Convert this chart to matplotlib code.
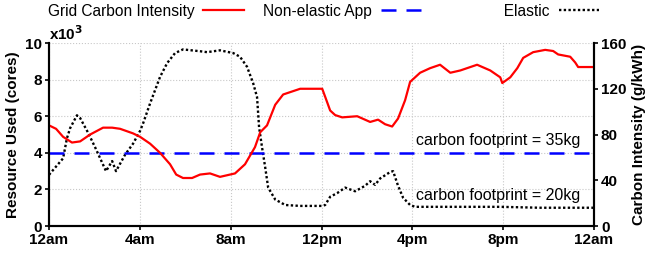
import matplotlib
matplotlib.use('Agg')
import matplotlib.pyplot as plt

plt.rcParams['font.family'] = ['Liberation Sans', 'DejaVu Sans']

# 电网碳强度 (g/kWh)
carbon_hours = [0, 0.31, 0.62, 1.01, 1.37, 1.81, 2.38, 2.78, 3.13, 3.70, 4.01, 4.45,
                4.89, 5.33, 5.6, 5.90, 6.30, 6.65, 7.09, 7.53, 8.19, 8.63, 9.07, 9.30,
                9.60, 9.96, 10.31, 11.06, 12.03, 12.16, 12.38, 12.60, 12.91, 13.57,
                14.14, 14.49, 14.80, 15.11, 15.37, 15.68, 15.90, 16.34, 16.78, 17.22,
                17.67, 18.11, 18.85, 19.43, 19.87, 19.96, 20.31, 20.62, 20.88, 21.32,
                21.85, 22.20, 22.42, 22.95, 23.17, 23.30, 24]
carbon_vals = [88, 85, 78, 73, 74, 80, 86, 86, 85, 81, 78, 72,
               64, 54, 45, 42, 42, 45, 46, 43, 46, 54, 69, 82,
               88, 106, 115, 120, 120, 113, 101, 97, 95, 96,
               91, 93, 89, 87, 94, 110, 126, 134, 138, 141,
               134, 136, 141, 136, 130, 125, 130, 138, 147, 152,
               154, 153, 150, 148, 143, 139, 139]

# 非弹性应用: 常数 4k cores
nonelastic_hours = [0, 24]
nonelastic_vals = [4.0, 4.0]

# 弹性应用 (x10^3 cores)
elastic_hours = [0, 0.62, 0.79, 0.93, 1.23, 1.37, 1.72, 2.03, 2.51, 2.78, 2.95, 3.35,
                 3.70, 4.01, 4.14, 4.45, 4.89, 5.20, 5.55, 5.90, 6.65, 6.96, 7.53,
                 8.11, 8.41, 8.72, 8.99, 9.16, 9.25, 9.38, 9.52, 9.65, 9.96, 10.40,
                 11.06, 12.03, 12.16, 12.38, 12.69, 13.04, 13.48, 13.92, 14.14, 14.36,
                 14.58, 15.02, 15.15, 15.37, 15.59, 15.90, 16.12, 17.67, 19.87, 21.63, 24]
elastic_vals = [2.8, 3.7, 4.8, 5.35, 6.05, 5.9, 5.1, 4.3, 3.0, 3.55, 3.0, 3.9,
                4.5, 5.2, 5.6, 6.7, 8.15, 8.9, 9.45, 9.65, 9.55, 9.5, 9.6,
                9.45, 9.25, 8.7, 7.8, 7.05, 5.4, 4.3, 3.2, 2.1, 1.45, 1.15,
                1.1, 1.1, 1.15, 1.6, 1.8, 2.1, 1.9, 2.2, 2.45, 2.25,
                2.6, 2.95, 3.0, 2.2, 1.55, 1.15, 1.05, 1.05, 1.05, 1.0, 1.0]

xticks = [0, 4, 8, 12, 16, 20, 24]
xticklabels = ['12am', '4am', '8am', '12pm', '4pm', '8pm', '12am']

fig = plt.figure(figsize=(6.45, 2.56), dpi=100)
ax = fig.add_axes([0.076, 0.117, 0.845, 0.715])
ax2 = ax.twinx()

# 绘制曲线
l_elastic, = ax.plot(elastic_hours, elastic_vals, color='black', lw=1.7,
                     linestyle=(0, (1, 1)), label='Elastic')
l_non, = ax.plot(nonelastic_hours, nonelastic_vals, color='blue', lw=1.8,
                 linestyle=(0, (6, 4)), label='Non-elastic App')
l_carbon, = ax2.plot(carbon_hours, carbon_vals, color='red', lw=1.6,
                     label='Grid Carbon Intensity')

ax.set_xlim(0, 24)
ax.set_ylim(0, 10)
ax2.set_ylim(0, 160)
ax.set_xticks(xticks)
ax.set_xticklabels(xticklabels, fontweight='bold', fontsize=11)
ax.set_yticks([0, 2, 4, 6, 8, 10])
ax.set_yticklabels(['0', '2', '4', '6', '8', '10'], fontweight='bold', fontsize=11)
ax2.set_yticks([0, 40, 80, 120, 160])
ax2.set_yticklabels(['0', '40', '80', '120', '160'], fontweight='bold', fontsize=11)

ax.grid(True, color='#c8c8c8', linestyle=':', lw=0.8)
for a in (ax, ax2):
    a.spines['top'].set_visible(False)
    for s in ('left', 'right', 'bottom'):
        a.spines[s].set_linewidth(1.5)
    a.tick_params(direction='out', length=3, width=1.2, pad=2)

ax.set_ylabel('Resource Used (cores)', fontweight='bold', fontsize=11, labelpad=4)
ax2.set_ylabel('Carbon Intensity (g/kWh)', fontweight='bold', fontsize=11, labelpad=4)
ax.text(0.0, 1.0, r'x10$^{\mathbf{3}}$', transform=ax.transAxes,
        fontweight='bold', fontsize=11, ha='left', va='bottom')

ax.text(0.975, 0.465, 'carbon footprint = 35kg', transform=ax.transAxes,
        fontsize=11.5, ha='right', va='center')
ax.text(0.975, 0.165, 'carbon footprint = 20kg', transform=ax.transAxes,
        fontsize=11.5, ha='right', va='center')

leg = fig.legend([l_carbon, l_non, l_elastic],
                 ['Grid Carbon Intensity', 'Non-elastic App',
                  '               Elastic'],
                 loc='upper left', bbox_to_anchor=(0.052, 1.04), ncol=3,
                 frameon=False, markerfirst=False, fontsize=11.2,
                 handlelength=2.6, columnspacing=1.2, handletextpad=0.6)

plt.savefig('out.png', dpi=100)
